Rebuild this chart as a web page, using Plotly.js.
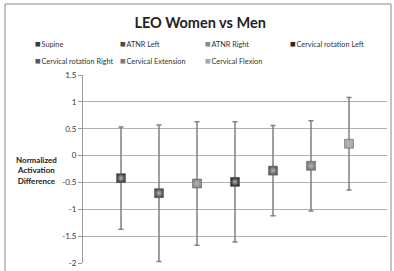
<!DOCTYPE html>
<html><head><meta charset="utf-8">
<script src="https://cdn.plot.ly/plotly-3.0.1.min.js"></script>
<style>html,body{margin:0;padding:0;background:#fff}#c{width:394px;height:271px}</style>
</head><body><div id="c"></div>
<script>
const categories = ["Supine","ATNR Left","ATNR Right","Cervical rotation Left","Cervical rotation Right","Cervical Extension","Cervical Flexion"];
const xPositions = [1,2,3,4,5,6,7];
const means = [-0.42,-0.70,-0.52,-0.49,-0.28,-0.19,0.22];
const errors = [0.95,1.27,1.15,1.12,0.84,0.84,0.86];
const colors = ["#3a3a3a","#4a4a4a","#8a8a8a","#2a2a2a","#5a5a5a","#7a7a7a","#a8a8a8"];
const yTicks = [1.5,1,0.5,0,-0.5,-1,-1.5,-2];

const traces = categories.map((name,i)=>({
  type:'scatter', mode:'markers', name:name, showlegend:false,
  x:[xPositions[i]], y:[means[i]],
  error_y:{type:'data', array:[errors[i]], visible:true, color:'#808080', thickness:1.5, width:2.5},
  marker:{symbol:'square', size:9, color:colors[i], line:{color:'#555', width:0.5},
          gradient:{type:'radial', color:'#b5b5b5'}}
}));

// legend built as annotations (4 columns x 2 rows), Excel-like small squares
const W = 394, H = 271, ML = 83, MR = 7, MT = 75, MB = 8;
const PW = W - ML - MR, PH = H - MT - MB;
const legendCols = [33,118,203,288], legendRows = [44,61];
const legendAnn = categories.map((name,i)=>{
  const px = legendCols[i % 4], py = legendRows[Math.floor(i / 4)];
  return {xref:'paper', yref:'paper', x:(px - ML)/PW, y:(H - MB - py)/PH, xanchor:'left', yanchor:'middle',
    showarrow:false, align:'left',
    text:'<span style="color:'+colors[i]+';font-size:9.5px">■</span><span style="font-size:3px"> </span>'+name, font:{size:7.3, color:'#333'}};
});

const layout = {
  width:W, height:H,
  margin:{l:ML, r:MR, t:MT, b:MB},
  paper_bgcolor:'#ffffff', plot_bgcolor:'#ffffff',
  font:{family:'Lato, "Open Sans", sans-serif', color:'#333'},
  title:{text:'<b>LEO Women vs Men</b>', x:0.508, xanchor:'center', y:0.915, yanchor:'middle', font:{size:14.5, color:'#222', family:'Lato, sans-serif'}},
  showlegend:false,
  xaxis:{range:[0,8], showticklabels:false, showgrid:false, zeroline:false, showline:false, ticks:''},
  yaxis:{range:[-2,1.5], tickvals:yTicks, ticktext:yTicks.map(String), showgrid:true, gridcolor:'#b0b0b0', gridwidth:1,
         zeroline:false, showline:true, linecolor:'#999', linewidth:1, ticks:'outside', ticklen:4, tickcolor:'#999',
         tickfont:{size:8, color:'#333'}},
  annotations:[{xref:'paper', yref:'paper', x:(36 - ML)/PW, y:(H - MB - 170)/PH, xanchor:'center', yanchor:'middle', showarrow:false,
    text:'<b>Normalized<br>Activation<br>Difference</b>', font:{size:8, color:'#222'}, align:'center'}].concat(legendAnn),
  shapes:[{type:'rect', xref:'paper', yref:'paper', x0:(5 - ML)/PW, x1:(391 - ML)/PW, y0:(H - MB - 275)/PH, y1:(H - MB - 4)/PH, line:{color:'#888', width:1}}]
};
Plotly.newPlot('c', traces, layout, {displayModeBar:false, staticPlot:true});
</script></body></html>
